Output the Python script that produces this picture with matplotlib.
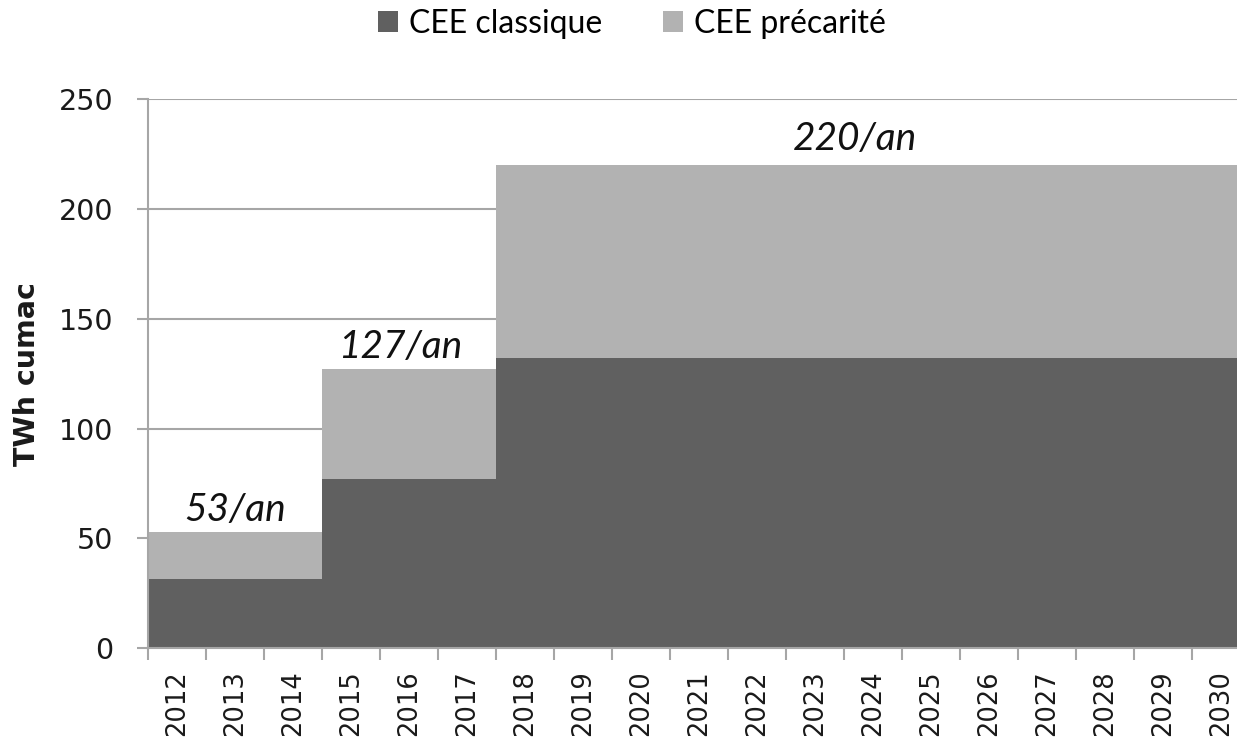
import matplotlib
matplotlib.use("Agg")
import matplotlib.pyplot as plt
from matplotlib.ticker import FixedLocator, FixedFormatter, NullFormatter
import numpy as np

# values (TWh cumac per year)
years = list(range(2012, 2031))
classique = [31.5, 31.5, 31.5, 77, 77, 77] + [132] * 13
precarite = [21.5, 21.5, 21.5, 50, 50, 50] + [88] * 13
period_labels = ["53/an", "127/an", "220/an"]
label_pos = [(1.49, 58), (4.35, 132), (12.18, 227)]

col_classique = "#606060"
col_precarite = "#b2b2b2"
grid_col = "#a6a6a6"
text_col = "#1a1a1a"

fig = plt.figure(figsize=(12.37, 7.49), dpi=100)
# the reference is cropped on the right, so the axes run past the figure edge
ax = fig.add_axes([0.1199, 0.1348, 0.8909, 0.7326])

# one bin per year, the area fills each bin fully
edges = np.arange(len(years) + 1)
cl = np.append(classique, classique[-1])
tot = cl + np.append(precarite, precarite[-1])
ax.fill_between(edges, 0, cl, step="post", color=col_classique, lw=0,
                label="CEE classique", zorder=2)
ax.fill_between(edges, cl, tot, step="post", color=col_precarite, lw=0,
                label="CEE précarité", zorder=2)

ax.set_xlim(0, len(years))
ax.set_ylim(0, 250)
ax.set_yticks(range(0, 251, 50))

# ticks on the bin edges, year labels in the middle of the bins
ax.xaxis.set_major_locator(FixedLocator(edges))
ax.xaxis.set_major_formatter(NullFormatter())
ax.xaxis.set_minor_locator(FixedLocator(np.arange(len(years)) + 0.5))
ax.xaxis.set_minor_formatter(FixedFormatter([str(y) for y in years]))
ax.tick_params(axis="x", which="major", colors=grid_col, length=8.6, width=1.5)
ax.tick_params(axis="x", which="minor", length=0, pad=16, labelsize=18.5,
               labelrotation=90, labelcolor=text_col,
               labelfontfamily="DejaVu Sans")
ax.tick_params(axis="y", labelsize=20.5, colors=grid_col, labelcolor=text_col,
               length=8, width=1.5, pad=17)

ax.grid(axis="y", color=grid_col, lw=1.5, zorder=0)
ax.set_axisbelow(True)
for side in ["top", "right"]:
    ax.spines[side].set_visible(False)
for side in ["left", "bottom"]:
    ax.spines[side].set_color(grid_col)
    ax.spines[side].set_linewidth(1.5)
    ax.spines[side].set_zorder(3)

ax.set_ylabel("TWh cumac", fontsize=20.5, fontweight="bold", color=text_col)
ax.yaxis.set_label_coords(-0.097, 0.5)

for txt, (tx, ty) in zip(period_labels, label_pos):
    ax.text(tx, ty, txt, ha="center", va="baseline", fontsize=28,
            style="italic", family=["Lato", "DejaVu Sans"], color="#111111")

fig.legend(loc="center", bbox_to_anchor=(0.511, 0.968), ncol=2,
           frameon=False, handlelength=0.62, handleheight=0.62,
           handletextpad=0.35, columnspacing=1.9,
           prop={"family": ["Lato", "DejaVu Sans"], "size": 23})

fig.savefig("out.png", dpi=100)
